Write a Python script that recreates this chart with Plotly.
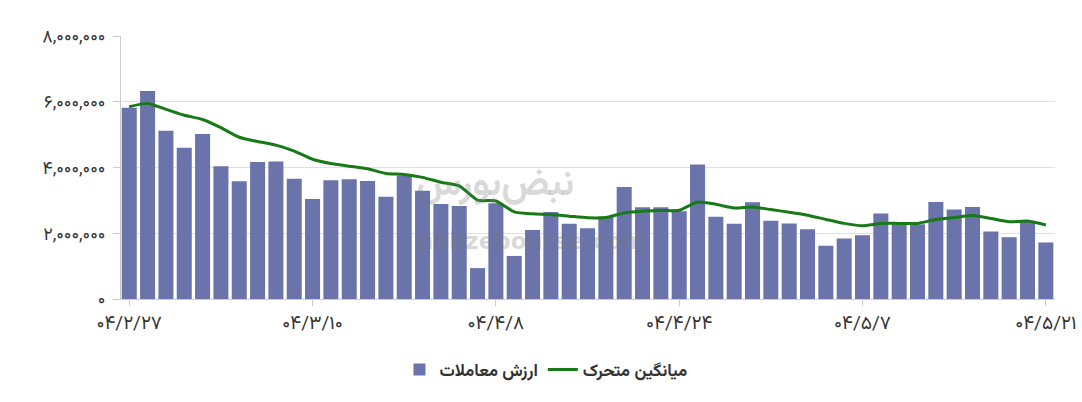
import plotly.graph_objects as go

# Trading value (bars) and moving average (line), in rials
values = [5.82, 6.33, 5.12, 4.60, 5.02, 4.04, 3.58, 4.17, 4.18, 3.66,
          3.04, 3.61, 3.64, 3.59, 3.11, 3.76, 3.29, 2.89, 2.83, 0.94,
          2.91, 1.31, 2.10, 2.65, 2.29, 2.15, 2.50, 3.41, 2.79, 2.79,
          2.67, 4.09, 2.50, 2.29, 2.94, 2.38, 2.30, 2.12, 1.62, 1.84,
          1.94, 2.60, 2.30, 2.27, 2.95, 2.72, 2.80, 2.05, 1.88, 2.38,
          1.72]
moving_avg = [5.85, 5.95, 5.77, 5.59, 5.46, 5.21, 4.92, 4.79, 4.68, 4.50,
              4.25, 4.12, 4.04, 3.96, 3.82, 3.79, 3.70, 3.55, 3.44, 3.01,
              2.98, 2.65, 2.59, 2.57, 2.52, 2.47, 2.48, 2.62, 2.67, 2.69,
              2.70, 2.95, 2.88, 2.77, 2.80, 2.72, 2.64, 2.55, 2.42, 2.30,
              2.23, 2.30, 2.30, 2.30, 2.42, 2.48, 2.54, 2.45, 2.35, 2.37,
              2.25]
values = [v * 1e6 for v in values]
moving_avg = [v * 1e6 for v in moving_avg]
x_idx = list(range(len(values)))

x_tickvals = [0, 10, 20, 30, 40, 50]
x_ticktext = ["۰۴/۲/۲۷", "۰۴/۳/۱۰", "۰۴/۴/۸", "۰۴/۴/۲۴", "۰۴/۵/۷", "۰۴/۵/۲۱"]
y_tickvals = [0, 2e6, 4e6, 6e6, 8e6]
y_ticktext = ["۰", "۲,۰۰۰,۰۰۰", "۴,۰۰۰,۰۰۰", "۶,۰۰۰,۰۰۰", "۸,۰۰۰,۰۰۰"]

bar_name = "ارزش معاملات"
line_name = "میانگین متحرک"

FONT = "Vazirmatn, 'DejaVu Sans', sans-serif"

fig = go.Figure()
fig.add_trace(go.Bar(x=x_idx, y=values, name=bar_name,
                     marker=dict(color="#6a74ab", line=dict(width=0))))
fig.add_trace(go.Scatter(x=x_idx, y=moving_avg, name=line_name, mode="lines",
                         line=dict(color="#177a17", width=3, shape="spline", smoothing=0.6)))

fig.add_annotation(text="<b>nabzebourse.com</b>", x=0.44, y=0.165, xref="paper", yref="paper",
                   showarrow=False, font=dict(family="DejaVu Sans", size=23, color="rgba(120,120,120,0.30)"))
fig.add_annotation(text="<b>نبض‌بورس</b>", x=0.40, y=0.43, xref="paper", yref="paper",
                   showarrow=False, font=dict(family=FONT, size=38, color="rgba(120,120,120,0.28)"))

fig.update_layout(
    width=1082, height=402,
    margin=dict(l=121, r=27, t=36, b=103),
    paper_bgcolor="white", plot_bgcolor="white",
    bargap=0.18,
    font=dict(family=FONT, color="#333333", size=15),
    showlegend=True,
    legend=dict(orientation="h", x=0.455, xanchor="center", y=-0.27, yanchor="middle",
                font=dict(size=17, color="#333333", weight="bold"), traceorder="normal"),
    xaxis=dict(range=[-0.45, 50.5], tickmode="array", tickvals=x_tickvals, ticktext=x_ticktext,
               showgrid=False, showline=True, linecolor="#cccccc", linewidth=1,
               ticks="outside", ticklen=6, tickcolor="#cccccc", automargin=False,
               tickfont=dict(size=19, color="#333333"), zeroline=False),
    yaxis=dict(range=[0, 8e6], tickmode="array", tickvals=y_tickvals, ticktext=y_ticktext,
               showgrid=True, gridcolor="#e0e0e0", gridwidth=1,
               showline=True, linecolor="#cccccc", linewidth=1,
               ticks="outside", ticklen=7, tickcolor="#cccccc", automargin=False,
               ticklabelstandoff=4,
               tickfont=dict(size=18, color="#333333"), zeroline=False),
)

fig.write_html("out.html", config={"displayModeBar": False},
               post_script="document.body.style.margin='0';")
